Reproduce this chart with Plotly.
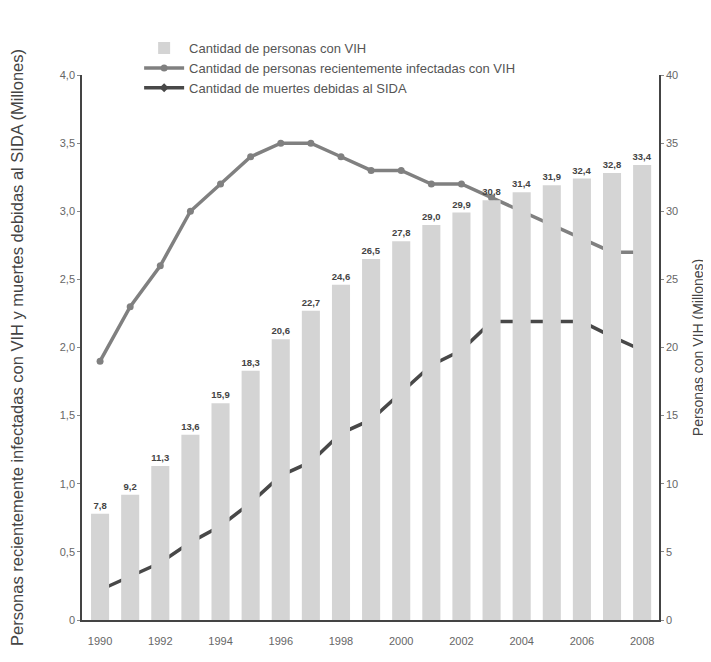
import plotly.graph_objects as go

years = list(range(1990, 2009))
personas_vih = [7.8, 9.2, 11.3, 13.6, 15.9, 18.3, 20.6, 22.7, 24.6, 26.5, 27.8,
                29.0, 29.9, 30.8, 31.4, 31.9, 32.4, 32.8, 33.4]
nuevas_infecciones = [1.9, 2.3, 2.6, 3.0, 3.2, 3.4, 3.5, 3.5, 3.4, 3.3, 3.3,
                      3.2, 3.2, 3.1, 3.0, 2.9, 2.8, 2.7, 2.7]
muertes = [0.22, 0.32, 0.42, 0.57, 0.69, 0.86, 1.06, 1.16, 1.37, 1.47, 1.67,
           1.87, 1.98, 2.19, 2.19, 2.19, 2.19, 2.08, 1.98]
bar_labels = ["<b>" + f"{v:.1f}".replace(".", ",") + "</b>" for v in personas_vih]

FONT = "Liberation Sans, Arial, sans-serif"

fig = go.Figure()
fig.add_trace(go.Bar(
    x=years, y=personas_vih, yaxis="y2", name="Cantidad de personas con VIH",
    marker=dict(color="#d4d4d4", line=dict(width=0)), width=0.6,
    text=bar_labels, textposition="outside", cliponaxis=False,
    constraintext="none",
    textfont=dict(family=FONT, size=9.5, color="#444"),
))
fig.add_trace(go.Scatter(
    x=years, y=nuevas_infecciones, name="Cantidad de personas recientemente infectadas con VIH",
    mode="lines+markers", line=dict(color="#808080", width=3.5),
    marker=dict(symbol="circle", size=7, color="#808080"),
))
fig.add_trace(go.Scatter(
    x=years, y=muertes, name="Cantidad de muertes debidas al SIDA",
    mode="lines+markers", line=dict(color="#484848", width=3.5),
    marker=dict(symbol="diamond", size=7, color="#484848"),
))

# the page body adds an 8px margin, so the figure is sized/offset to compensate
fig.update_layout(
    width=703, height=654,
    margin=dict(l=74, r=52, t=67, b=42, autoexpand=False),
    paper_bgcolor="white", plot_bgcolor="white",
    separators=",.",
    font=dict(family=FONT, size=12, color="#555"),
    showlegend=True,
    barmode="overlay",
    legend=dict(x=0.099, y=1.077, xanchor="left", yanchor="top",
                font=dict(family=FONT, size=13, color="#555"),
                bgcolor="rgba(0,0,0,0)", tracegroupgap=0, itemwidth=40,
                traceorder="normal"),
    xaxis=dict(range=[1989.4, 2008.56], tickmode="array",
               tickvals=list(range(1990, 2009, 2)),
               ticktext=[str(y) for y in range(1990, 2009, 2)],
               showgrid=False, zeroline=False, showline=True,
               linecolor="#444", linewidth=1.5, ticks="",
               ticklabelstandoff=10,
               tickfont=dict(size=11, color="#666")),
    yaxis=dict(range=[0, 4], tickmode="array",
               tickvals=[0, 0.5, 1, 1.5, 2, 2.5, 3, 3.5, 4],
               ticktext=["0", "0,5", "1,0", "1,5", "2,0", "2,5", "3,0", "3,5", "4,0"],
               showgrid=False, zeroline=False, showline=True,
               linecolor="#444", linewidth=1.5, ticks="outside", ticklen=3,
               tickcolor="#888", tickfont=dict(size=11, color="#666"),
               title=dict(text="Personas recientemente infectadas con VIH y muertes debidas al SIDA (Millones)",
                          font=dict(size=16.5, color="#444"), standoff=36)),
    yaxis2=dict(range=[0, 40], overlaying="y", side="right",
                tickmode="array", tickvals=list(range(0, 41, 5)),
                showgrid=False, zeroline=False, showline=True,
                linecolor="#444", linewidth=1.5, ticks="outside", ticklen=3,
                tickcolor="#888", tickfont=dict(size=11, color="#666"),
                title=dict(text="Personas con VIH (Millones)",
                           font=dict(size=14, color="#444"), standoff=16)),
)

fig.write_html("out.html")
